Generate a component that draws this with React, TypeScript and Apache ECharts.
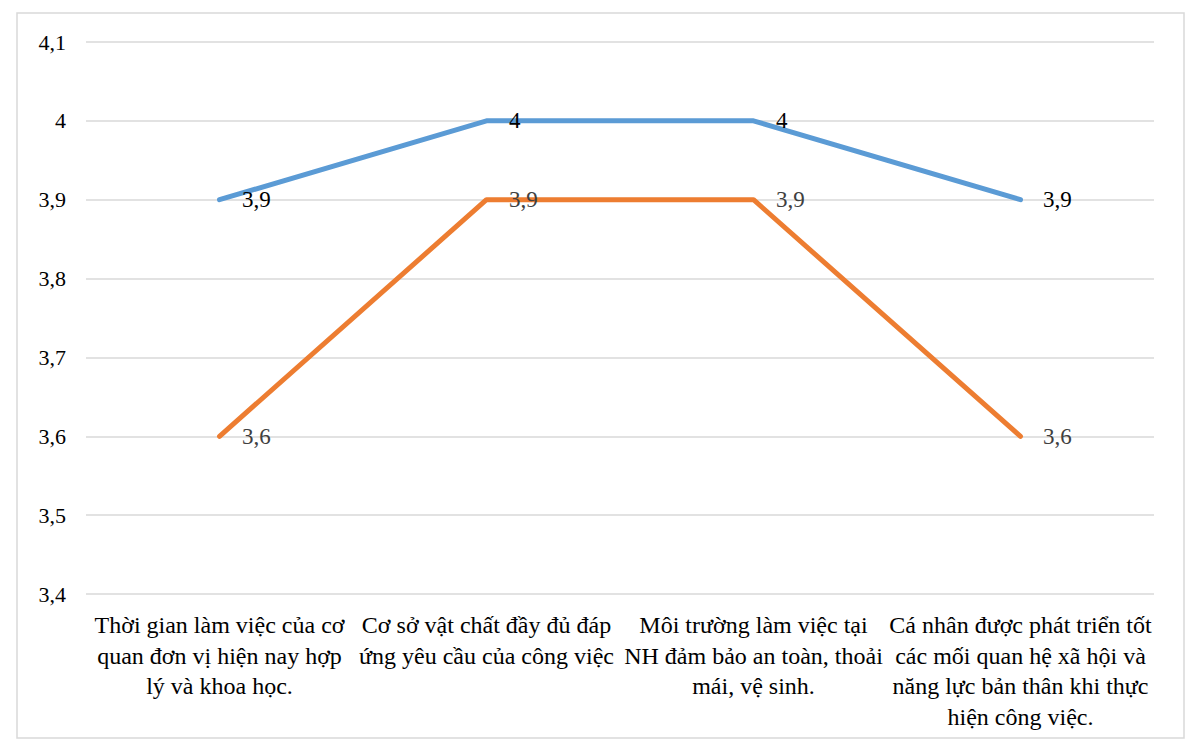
import React, { useEffect, useRef } from "react";
import * as echarts from "echarts";

const categories = [
  "Thời gian làm việc của cơ\nquan đơn vị hiện nay hợp\nlý và khoa học.",
  "Cơ sở vật chất đầy đủ đáp\nứng yêu cầu của công việc",
  "Môi trường làm việc tại\nNH đảm bảo an toàn, thoải\nmái, vệ sinh.",
  "Cá nhân được phát triển tốt\ncác mối quan hệ xã hội và\nnăng lực bản thân khi thực\nhiện công việc.",
];
const seriesA = [3.9, 4, 4, 3.9];
const seriesB = [3.6, 3.9, 3.9, 3.6];
const yMin = 3.4;
const yMax = 4.1;
const yStep = 0.1;

const fmt = (v: number) => {
  const r = Math.round(v * 10) / 10;
  return String(r).replace(".", ",");
};

const FONT = "Liberation Serif";
const CSS = "#chart-box svg text, #chart-box svg tspan { font-family: 'Liberation Serif', 'Times New Roman', serif !important; }";

export default function App() {
  const ref = useRef<HTMLDivElement>(null);
  useEffect(() => {
    document.body.style.margin = "0";
    const chart = echarts.init(ref.current!, null, { renderer: "svg" });
    chart.setOption({
      animation: false,
      backgroundColor: "#ffffff",
      textStyle: { fontFamily: FONT },
      graphic: [
        {
          type: "rect",
          shape: { x: 17, y: 13, width: 1167, height: 725 },
          style: { fill: "none", stroke: "#D9D9D9", lineWidth: 1.5 },
          silent: true,
        },
      ],
      grid: { left: 86, right: 46, top: 42, bottom: 162, containLabel: false },
      xAxis: {
        type: "category",
        data: categories,
        boundaryGap: true,
        axisLine: { show: false },
        axisTick: { show: false },
        axisLabel: {
          interval: 0,
          margin: 16,
          fontFamily: FONT,
          fontSize: 24,
          lineHeight: 30.5,
          color: "#000000",
          align: "center",
        },
      },
      yAxis: {
        type: "value",
        min: yMin,
        max: yMax,
        interval: yStep,
        axisLine: { show: false },
        axisTick: { show: false },
        splitLine: { lineStyle: { color: "#D9D9D9", width: 1.5 } },
        axisLabel: {
          margin: 20,
          fontFamily: FONT,
          fontSize: 22,
          color: "#000000",
          formatter: (v: number) => fmt(v),
        },
      },
      series: [
        {
          type: "line",
          data: seriesA,
          symbol: "circle",
          symbolSize: 1,
          lineStyle: { color: "#5B9BD5", width: 5, cap: "round", join: "round" },
          itemStyle: { color: "#5B9BD5" },
          label: {
            show: true,
            position: "right",
            distance: 22,
            fontFamily: FONT,
            fontSize: 23,
            color: "#000000",
            formatter: (p: any) => fmt(p.value),
          },
        },
        {
          type: "line",
          data: seriesB,
          symbol: "circle",
          symbolSize: 1,
          lineStyle: { color: "#ED7D31", width: 5, cap: "round", join: "round" },
          itemStyle: { color: "#ED7D31" },
          label: {
            show: true,
            position: "right",
            distance: 22,
            fontFamily: FONT,
            fontSize: 23,
            color: "#404040",
            formatter: (p: any) => fmt(p.value),
          },
        },
      ],
    });
    return () => chart.dispose();
  }, []);
  return (
    <>
      <style>{CSS}</style>
      <div
        id="chart-box"
        ref={ref}
        style={{ position: "absolute", left: 0, top: 0, width: 1200, height: 756 }}
      />
    </>
  );
}
